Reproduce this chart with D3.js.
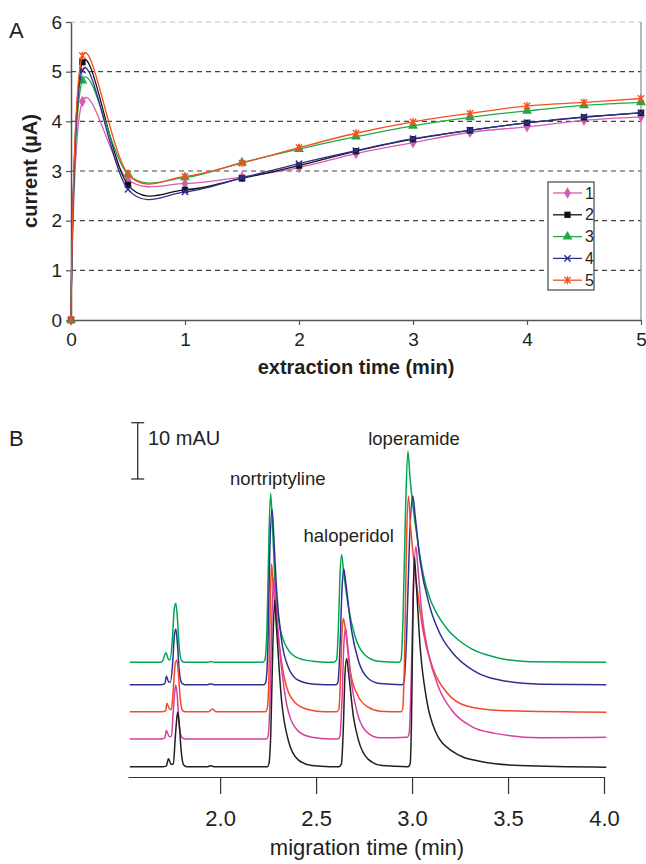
<!DOCTYPE html>
<meta charset="utf-8">
<style>
  body { margin: 0; background: #fff; }
  svg text { font-family: "Liberation Sans", Arial, sans-serif; fill: #231f20; }
</style>
<script src="https://d3js.org/d3.v7.min.js"></script>
<div id="chart"></div>
<script>
// ---------- panel A data : current vs extraction time ----------
var extractionTimes = [0, 0.1, 0.5, 1, 1.5, 2, 2.5, 3, 3.5, 4, 4.5, 5];
var run1 = [0, 4.40, 2.83, 2.75, 2.88, 3.07, 3.35, 3.57, 3.78, 3.89, 4.02, 4.09];
var run2 = [0, 5.19, 2.72, 2.62, 2.85, 3.11, 3.40, 3.64, 3.82, 3.97, 4.08, 4.17];
var run3 = [0, 4.82, 2.93, 2.87, 3.17, 3.44, 3.69, 3.91, 4.08, 4.21, 4.32, 4.38];
var run4 = [0, 5.03, 2.63, 2.58, 2.86, 3.15, 3.41, 3.65, 3.82, 3.97, 4.09, 4.17];
var run5 = [0, 5.32, 2.94, 2.89, 3.16, 3.47, 3.76, 3.99, 4.16, 4.31, 4.38, 4.46];
var runNames = ["1", "2", "3", "4", "5"];
var yTicksA = [0, 1, 2, 3, 4, 5, 6];
var xTicksA = [0, 1, 2, 3, 4, 5];

// ---------- panel B data : electropherograms [time (min), signal above own baseline (mAU)] ----------
var greenTrace = [[1.529,0],[1.685,0],[1.701,0.3],[1.717,1.7],[1.730,0.6],[1.738,0.4],[1.751,4],[1.761,9.5],[1.769,10.5],[1.777,8],[1.787,2.5],[1.800,0.3],[1.816,0],[1.935,0],[1.951,0.15],[1.968,0],
  [2.223,0],[2.233,0.4],[2.244,6],[2.254,22],[2.263,30],[2.272,25],[2.285,14.7],[2.311,6.3],[2.355,2.2],[2.407,0.75],[2.494,0.15],
  [2.593,0],[2.607,0.5],[2.616,6],[2.624,15],[2.633,19.1],[2.642,16.5],[2.668,9.9],[2.703,4.6],[2.755,1.3],[2.823,0.2],
  [2.932,0],[2.943,0.5],[2.953,8],[2.966,27],[2.978,37.5],[2.990,32.5],[3.025,22.5],[3.059,15.5],[3.090,11.6],[3.130,8.6],[3.181,6.0],[3.240,4.0],[3.310,2.4],[3.424,1.0],[3.616,0.1],[4.012,0]];
var blueTrace = [[1.529,0],[1.690,0],[1.712,0.2],[1.720,1.5],[1.732,0.5],[1.741,0.5],[1.753,4],[1.761,8.5],[1.769,9.9],[1.777,7.5],[1.787,2.5],[1.800,0.3],[1.816,0],[1.935,0],[1.951,0.15],[1.968,0],
  [2.228,0],[2.238,0.5],[2.249,7],[2.259,24],[2.271,31.1],[2.280,26],[2.294,16.8],[2.320,7.9],[2.355,3.1],[2.407,0.8],[2.494,0.1],
  [2.604,0],[2.614,0.5],[2.625,7],[2.635,17],[2.644,20.6],[2.653,18.5],[2.685,9.6],[2.720,4.3],[2.772,1.1],[2.833,0.2],
  [2.948,0],[2.958,0.5],[2.971,8],[2.987,26],[3.004,33.5],[3.016,30],[3.042,22.0],[3.094,13.7],[3.146,9.0],[3.215,5.5],[3.320,2.5],[3.494,0.6],[3.668,0.1],[4.012,0]];
var redTrace = [[1.529,0],[1.695,0],[1.717,0.2],[1.722,1.5],[1.738,0.4],[1.746,0.4],[1.758,5],[1.766,8.5],[1.775,9.2],[1.782,7],[1.793,2],[1.805,0.2],[1.821,0],[1.941,0],[1.960,0.5],[1.978,0],
  [2.236,0],[2.245,0.5],[2.254,6],[2.262,20],[2.268,26.3],[2.277,22],[2.303,13.2],[2.338,5.5],[2.390,1.65],[2.458,0.4],[2.546,0],
  [2.609,0],[2.619,0.5],[2.628,7],[2.635,14],[2.642,16.6],[2.651,15],[2.677,7.4],[2.720,2.7],[2.772,0.8],[2.833,0.1],
  [2.943,0],[2.951,0.5],[2.961,10],[2.971,30],[2.981,38.3],[2.992,33],[3.025,22.3],[3.059,14.0],[3.111,7.5],[3.181,3.4],[3.285,1.0],[3.459,0.2],[4.012,-0.1]];
var pinkTrace = [[1.529,0],[1.690,0],[1.712,0.2],[1.720,1.5],[1.735,0.4],[1.746,0.5],[1.756,5],[1.764,8.5],[1.769,9.6],[1.777,7.5],[1.787,2.5],[1.800,0.3],[1.816,0],
  [2.241,0],[2.250,0.5],[2.259,6],[2.270,22],[2.279,28.6],[2.288,25],[2.320,12.6],[2.355,4.9],[2.407,1.4],[2.478,0.3],[2.572,0],
  [2.614,0],[2.624,0.5],[2.635,7],[2.645,17],[2.654,19.7],[2.663,17],[2.685,9.9],[2.720,4.0],[2.772,1.0],[2.833,0.2],
  [2.974,0.3],[2.985,1],[2.995,10],[3.008,28],[3.020,34.2],[3.029,31],[3.051,22.3],[3.085,15.2],[3.137,9.3],[3.207,5.1],[3.311,2.2],[3.433,1.0],[3.668,0.2],[4.012,0.3]];
var blackTrace = [[1.529,0],[1.700,0],[1.719,0.1],[1.731,1.4],[1.745,0.4],[1.756,0.5],[1.766,5],[1.774,8.5],[1.779,9.65],[1.787,7.5],[1.798,2.5],[1.810,0.3],[1.826,0],[1.935,0],[1.951,0.15],[1.968,0],
  [2.246,0],[2.254,0.5],[2.264,6],[2.275,22],[2.284,29.6],[2.293,25],[2.320,11.8],[2.355,4.7],[2.407,1.2],[2.478,0.2],[2.572,0],
  [2.619,0],[2.632,0.5],[2.642,7],[2.650,16],[2.659,19.2],[2.668,17],[2.694,9.0],[2.720,4.8],[2.772,1.3],[2.843,0.2],
  [2.979,0],[2.990,0.5],[2.997,8],[3.005,28],[3.012,37.2],[3.021,33],[3.042,21.3],[3.077,11.7],[3.120,6.4],[3.207,2.8],[3.346,1.0],[3.563,0.2],[4.012,-0.1]];
// vertical offset of each trace (mAU above the lowest one)
var traceOffsets = [18.54, 14.56, 9.77, 4.92, 0];
var peakNames = ["nortriptyline", "haloperidol", "loperamide"];
var peakLabelTimes = [2.30, 2.67, 3.01];
var xTicksB = [2.0, 2.5, 3.0, 3.5, 4.0];

var W = 646, H = 864;
var svg = d3.select("#chart").append("svg").attr("width", W).attr("height", H);

// ================= panel A =================
var xA = d3.scaleLinear().domain([0, 5]).range([71, 641]);
var yA = d3.scaleLinear().domain([0, 6]).range([320, 22]);

var colorsA = ["#d65cb0", "#111111", "#1fa84a", "#2e3192", "#f4511e"];

// gridlines
svg.append("g").selectAll("line")
  .data(yTicksA.filter(function(d) { return d > 0; }))
  .enter().append("line")
    .attr("x1", xA(0)).attr("x2", xA(5))
    .attr("y1", function(d) { return yA(d); })
    .attr("y2", function(d) { return yA(d); })
    .attr("stroke", function(d) { return d == 6 ? "#c4c4c4" : "#444"; })
    .attr("stroke-width", 1.2)
    .attr("stroke-dasharray", "5,4");

// right border
svg.append("line").attr("x1", xA(5)).attr("x2", xA(5)).attr("y1", yA(6)).attr("y2", yA(0))
  .attr("stroke", "#8a8a8a").attr("stroke-width", 1.2);

var yAxisA = svg.append("g").attr("transform", "translate(" + xA(0) + ",0)")
  .call(d3.axisLeft(yA).tickValues(yTicksA).tickFormat(d3.format("d")).tickSize(5).tickPadding(4).tickSizeOuter(0));
var xAxisA = svg.append("g").attr("transform", "translate(0," + yA(0) + ")")
  .call(d3.axisBottom(xA).tickValues(xTicksA).tickFormat(d3.format("d")).tickSize(5).tickPadding(8).tickSizeOuter(0));
[yAxisA, xAxisA].forEach(function(a) {
  a.select(".domain").attr("stroke", "#555").attr("stroke-width", 1.5);
  a.selectAll(".tick line").attr("stroke", "#555").attr("stroke-width", 1.2);
  a.selectAll(".tick text").style("font-size", "19px").attr("fill", "#231f20");
});

var runs = [run1, run2, run3, run4, run5];
var lineA = d3.line()
  .x(function(d) { return xA(d[0]); })
  .y(function(d) { return yA(d[1]); })
  .curve(d3.curveCardinal.tension(0));

// marker shapes
var xShape = { draw: function(ctx, size) {
  var r = Math.sqrt(size) / 2;
  ctx.moveTo(-r, -r); ctx.lineTo(r, r); ctx.moveTo(r, -r); ctx.lineTo(-r, r);
}};
var starShape = { draw: function(ctx, size) {
  var r = Math.sqrt(size) / 2;
  ctx.moveTo(-r, -r); ctx.lineTo(r, r); ctx.moveTo(r, -r); ctx.lineTo(-r, r);
  ctx.moveTo(0, -r * 1.25); ctx.lineTo(0, r * 1.25);
}};
var shapes = [
  { type: d3.symbolDiamond, size: 38, filled: true },
  { type: d3.symbolSquare, size: 40, filled: true },
  { type: d3.symbolTriangle, size: 42, filled: true },
  { type: xShape, size: 40, filled: false },
  { type: starShape, size: 40, filled: false }
];
function drawMarker(g, i, x, y) {
  var s = shapes[i];
  g.append("path")
    .attr("d", d3.symbol().type(s.type).size(s.size)())
    .attr("transform", "translate(" + x + "," + y + ")")
    .attr("fill", s.filled ? colorsA[i] : "none")
    .attr("stroke", colorsA[i])
    .attr("stroke-width", s.filled ? 0 : 1.4);
}

runs.forEach(function(r, i) {
  var pts = extractionTimes.map(function(t, j) { return [t, r[j]]; });
  var g = svg.append("g");
  g.append("path").datum(pts)
    .attr("d", lineA)
    .attr("fill", "none")
    .attr("stroke", colorsA[i])
    .attr("stroke-width", 1.3);
  pts.forEach(function(p) { drawMarker(g, i, xA(p[0]), yA(p[1])); });
});

// legend
var leg = svg.append("g").attr("transform", "translate(548,182)");
leg.append("rect").attr("width", 46).attr("height", 108)
  .attr("fill", "#fff").attr("stroke", "#444").attr("stroke-width", 1.2);
runNames.forEach(function(n, i) {
  var yy = 11 + i * 21.8;
  leg.append("line").attr("x1", 5).attr("x2", 34).attr("y1", yy).attr("y2", yy)
    .attr("stroke", colorsA[i]).attr("stroke-width", 1.3);
  drawMarker(leg, i, 19.5, yy);
  leg.append("text").attr("x", 37).attr("y", yy + 5.5).text(n).style("font-size", "16px");
});

svg.append("text").attr("x", 356).attr("y", 374).attr("text-anchor", "middle")
  .style("font-size", "20px").style("font-weight", "bold").text("extraction time (min)");
svg.append("text").attr("transform", "translate(37,171) rotate(-90)").attr("text-anchor", "middle")
  .style("font-size", "20px").style("font-weight", "bold").text("current (µA)");
svg.append("text").attr("x", 9).attr("y", 38).style("font-size", "22px").text("A");

// ================= panel B =================
var xB = d3.scaleLinear().domain([1.52, 4.0]).range([128, 604]);
var yB = d3.scaleLinear().domain([0, 10]).range([766.7, 710.4]);

var traces = [greenTrace, blueTrace, redTrace, pinkTrace, blackTrace];
var colorsB = ["#00a651", "#2e3192", "#f2492a", "#d63fa0", "#231f20"];

svg.append("text").attr("x", 9).attr("y", 446).style("font-size", "22px").text("B");

var xAxisB = svg.append("g").attr("transform", "translate(0,777)")
  .call(d3.axisBottom(xB).tickValues(xTicksB).tickFormat(d3.format(".1f"))
    .tickSize(17).tickPadding(16).tickSizeOuter(0));
xAxisB.select(".domain").attr("stroke", "#333").attr("stroke-width", 1.2);
xAxisB.selectAll(".tick line").attr("stroke", "#333").attr("stroke-width", 1.2);
xAxisB.selectAll(".tick text").style("font-size", "22px").attr("fill", "#231f20");

svg.append("text").attr("x", 367).attr("y", 855).attr("text-anchor", "middle")
  .style("font-size", "22px").text("migration time (min)");

var lineB = d3.line()
  .x(function(d) { return xB(d[0]); })
  .y(function(d) { return d[1]; })
  .curve(d3.curveMonotoneX);

traces.forEach(function(tr, i) {
  var pts = tr.map(function(p) { return [p[0], yB(p[1] + traceOffsets[i])]; });
  svg.append("path").datum(pts)
    .attr("d", lineB)
    .attr("fill", "none")
    .attr("stroke", colorsB[i])
    .attr("stroke-width", 1.5)
    .attr("stroke-linejoin", "round");
});

// 10 mAU scale bar
var barTop = 422.7, barLen = yB(0) - yB(10), barX = 137.7;
var bar = svg.append("g").attr("stroke", "#333").attr("stroke-width", 1.3);
bar.append("line").attr("x1", barX).attr("x2", barX).attr("y1", barTop).attr("y2", barTop + barLen);
bar.append("line").attr("x1", barX - 6.5).attr("x2", barX + 6.5).attr("y1", barTop).attr("y2", barTop);
bar.append("line").attr("x1", barX - 6.5).attr("x2", barX + 6.5).attr("y1", barTop + barLen).attr("y2", barTop + barLen);
svg.append("text").attr("x", 148).attr("y", 445).style("font-size", "20px").text("10 mAU");

var labelY = [485, 542, 445];
peakNames.forEach(function(n, i) {
  svg.append("text").attr("x", xB(peakLabelTimes[i])).attr("y", labelY[i])
    .attr("text-anchor", "middle").style("font-size", "18.5px").text(n);
});
</script>
